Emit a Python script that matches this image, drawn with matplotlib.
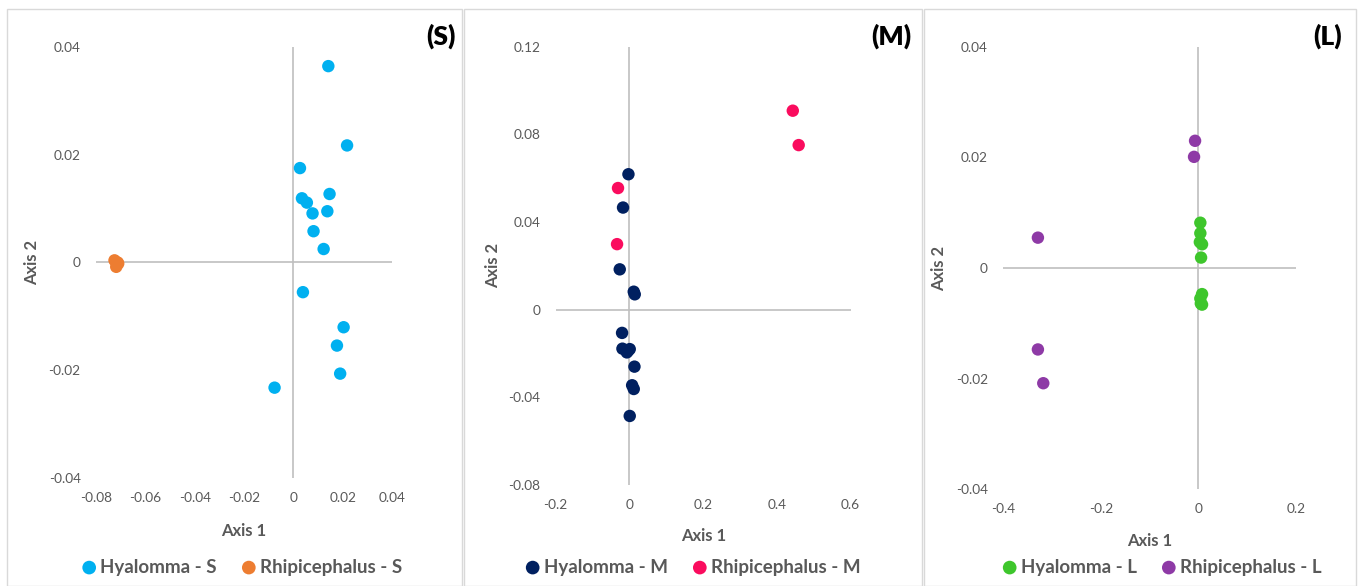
import matplotlib
matplotlib.use("Agg")
import matplotlib.pyplot as plt
from matplotlib.patches import Rectangle

plt.rcParams['font.family'] = ['Lato', 'DejaVu Sans']

# S segment
hy_s_x = [0.0142, 0.0218, 0.0027, 0.0035, 0.0055, 0.0147, 0.0078, 0.0138, 0.0082, 0.0123,
          0.0039, 0.0204, 0.0177, 0.0190, -0.0076]
hy_s_y = [0.0364, 0.0217, 0.0175, 0.0119, 0.0111, 0.0127, 0.0091, 0.0095, 0.0058, 0.0025,
          -0.0055, -0.0120, -0.0154, -0.0206, -0.0232]
rh_s_x = [-0.0725, -0.0712, -0.0718, -0.0710]
rh_s_y = [0.0004, 0.0000, -0.0008, -0.0002]

# M segment
hy_m_x = [-0.0027, -0.0174, -0.0263, 0.0117, 0.0144, -0.0200, -0.0190, -0.0038, 0.0008,
          -0.0070, 0.0136, 0.0073, 0.0117, 0.0008]
hy_m_y = [0.0618, 0.0466, 0.0184, 0.0082, 0.0070, -0.0106, -0.0178, -0.0188, -0.0180,
          -0.0195, -0.0260, -0.0345, -0.0362, -0.0485]
rh_m_x = [0.443, 0.459, -0.031, -0.0336]
rh_m_y = [0.0908, 0.0751, 0.0555, 0.0299]

# L segment
hy_l_x = [0.004, 0.004, 0.003, 0.0075, 0.0055, 0.0075, 0.004, 0.005, 0.0075]
hy_l_y = [0.0082, 0.0063, 0.0047, 0.0043, 0.0019, -0.0047, -0.0055, -0.0064, -0.0066]
rh_l_x = [-0.0068, -0.0089, -0.329, -0.329, -0.318]
rh_l_y = [0.0230, 0.0201, 0.0055, -0.0147, -0.0208]

panels = [
    dict(tag='S', pos=[0.0706, 0.1838, 0.2176, 0.7365], xlim=(-0.08, 0.04), ylim=(-0.04, 0.04),
         xt=[-0.08, -0.06, -0.04, -0.02, 0, 0.02, 0.04], yt=[-0.04, -0.02, 0, 0.02, 0.04],
         data=[(hy_s_x, hy_s_y, '#00B0F0', 'Hyalomma - S'), (rh_s_x, rh_s_y, '#ED7D31', 'Rhipicephalus - S')],
         frame=(7, 462), tagx=441, ax2x=32, ax1y=531, legx=241),
    dict(tag='M', pos=[0.4086, 0.1724, 0.2169, 0.7479], xlim=(-0.2, 0.6), ylim=(-0.08, 0.12),
         xt=[-0.2, 0, 0.2, 0.4, 0.6], yt=[-0.08, -0.04, 0, 0.04, 0.08, 0.12],
         data=[(hy_m_x, hy_m_y, '#002060', 'Hyalomma - M'), (rh_m_x, rh_m_y, '#FA0C5E', 'Rhipicephalus - M')],
         frame=(464, 922), tagx=891, ax2x=493, ax1y=536, legx=692),
    dict(tag='L', pos=[0.7377, 0.1647, 0.2152, 0.7556], xlim=(-0.4, 0.2), ylim=(-0.04, 0.04),
         xt=[-0.4, -0.2, 0, 0.2], yt=[-0.04, -0.02, 0, 0.02, 0.04],
         data=[(hy_l_x, hy_l_y, '#3EC62C', 'Hyalomma - L'), (rh_l_x, rh_l_y, '#8E3AA6', 'Rhipicephalus - L')],
         frame=(924, 1356), tagx=1328, ax2x=939, ax1y=541, legx=1161),
]

W, H = 1360, 586
fig = plt.figure(figsize=(13.6, 5.86), dpi=100)

def fmt(v):
    if v == 0:
        return '0'
    return ('%g' % v)

for p in panels:
    x0, x1 = p['frame']
    fig.add_artist(Rectangle((x0 / W, 0.0), (x1 - x0) / W, 1 - 9 / H, transform=fig.transFigure,
                             fill=False, edgecolor='#D9D9D9', linewidth=1))
    ax = fig.add_axes(p['pos'])
    ax.set_xlim(*p['xlim'])
    ax.set_ylim(*p['ylim'])
    for s in ax.spines.values():
        s.set_visible(False)
    ax.axhline(0, color='#BFBFBF', lw=1.2, zorder=1)
    ax.axvline(0, color='#BFBFBF', lw=1.2, zorder=1)
    ax.set_xticks(p['xt'])
    ax.set_xticklabels([fmt(v) for v in p['xt']])
    ax.set_yticks(p['yt'])
    ax.set_yticklabels([fmt(v) for v in p['yt']])
    ax.tick_params(length=0, labelsize=9.8, labelcolor='#595959')
    ax.tick_params(axis='y', pad=11)
    ax.tick_params(axis='x', pad=10)
    ax.patch.set_alpha(0)
    handles = []
    for xs, ys, c, lab in p['data']:
        h = ax.scatter(xs, ys, s=80, color=c, edgecolors='none', zorder=3, label=lab)
        handles.append(h)
    fig.text(p['tagx'] / W, 1 - 36 / H, '(%s)' % p['tag'], fontsize=19, fontweight='heavy',
             ha='center', va='center', color='black')
    cx = (p['pos'][0] + p['pos'][2] / 2)
    fig.text(cx, 1 - p['ax1y'] / H, 'Axis 1', fontsize=12, fontweight='bold', color='#595959',
             ha='center', va='center')
    fig.text(p['ax2x'] / W, p['pos'][1] + p['pos'][3] / 2, 'Axis 2', fontsize=12, fontweight='bold',
             color='#595959', ha='center', va='center', rotation=90)
    fig.legend(handles=handles, loc='center', bbox_to_anchor=(p['legx'] / W, 1 - 567 / H), ncol=2,
               frameon=False, prop={'weight': 'bold', 'size': 13.5},
               handletextpad=0.1, columnspacing=1.2, markerscale=1.1, handlelength=1.0,
               labelcolor='#595959', borderaxespad=0)

fig.savefig('out.png', dpi=100)
